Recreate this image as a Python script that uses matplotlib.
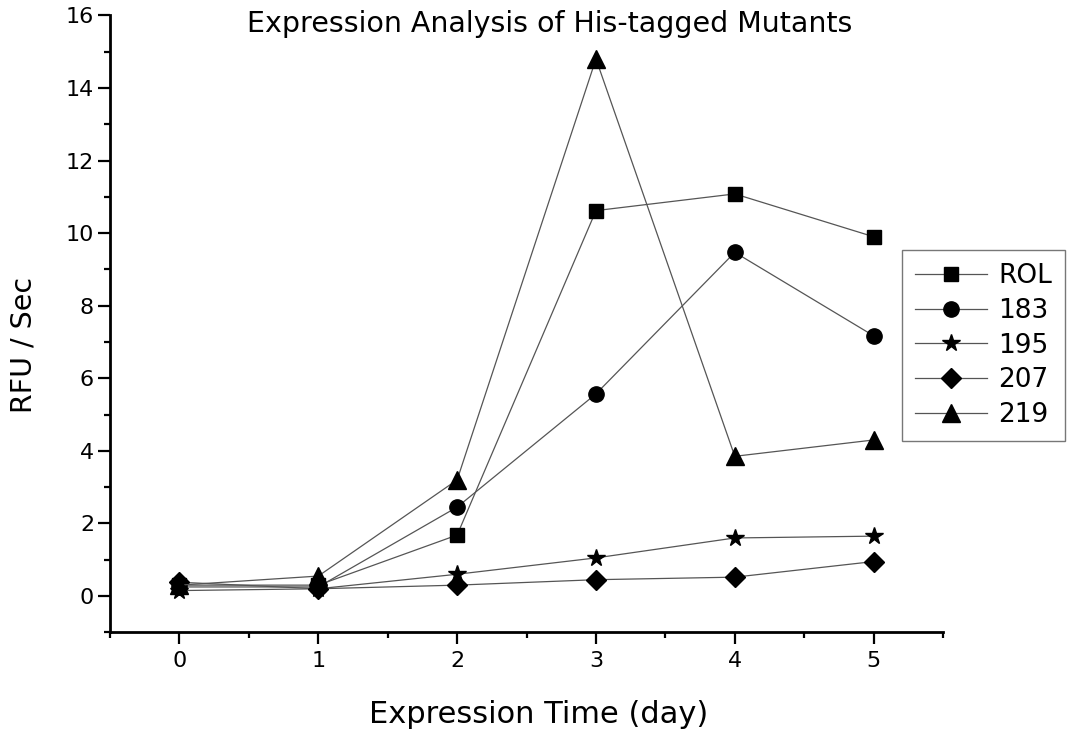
import matplotlib
matplotlib.use("Agg")
from matplotlib import pyplot as plt
from matplotlib.ticker import MultipleLocator

plt.rcParams['font.family'] = ['DejaVu Sans']

days = [0, 1, 2, 3, 4, 5]
rol = [0.30, 0.30, 1.68, 10.62, 11.08, 9.90]
m183 = [0.25, 0.25, 2.45, 5.57, 9.47, 7.17]
m195 = [0.15, 0.20, 0.60, 1.05, 1.60, 1.65]
m207 = [0.38, 0.20, 0.30, 0.45, 0.52, 0.95]
m219 = [0.30, 0.55, 3.20, 14.80, 3.85, 4.30]

labels = ["ROL", "183", "195", "207", "219"]
series = [rol, m183, m195, m207, m219]
markers = ["s", "o", "*", "D", "^"]
sizes = [9.4, 11, 13, 10, 13]

fig = plt.figure(figsize=(10.79, 7.31), dpi=100)
ax = fig.add_axes([0.102, 0.135, 0.772, 0.844])

for lab, vals, mk, ms in zip(labels, series, markers, sizes):
    ax.plot(days, vals, color='#555555', lw=0.9, marker=mk, ms=ms,
            mfc='black', mec='black', label=lab)

ax.set_xlim(-0.5, 5.5)
ax.set_ylim(-1, 16)
ax.xaxis.set_major_locator(MultipleLocator(1))
ax.xaxis.set_minor_locator(MultipleLocator(0.5))
ax.yaxis.set_major_locator(MultipleLocator(2))
ax.yaxis.set_minor_locator(MultipleLocator(1))
ax.tick_params(which='major', length=8.5, width=1.6, labelsize=16, direction='out')
ax.tick_params(which='minor', length=4.5, width=1.6, direction='out')
ax.tick_params(axis='x', pad=5)
ax.tick_params(axis='y', pad=3)
for s in ['top', 'right']:
    ax.spines[s].set_visible(False)
for s in ['left', 'bottom']:
    ax.spines[s].set_linewidth(2)

fig.text(539 / 1079, 1 - 723 / 731, "Expression Time (day)",
         ha='center', va='baseline', fontsize=22)
fig.text(24 / 1079, 1 - 345 / 731, "RFU / Sec", rotation=90,
         ha='center', va='center', fontsize=20.5)
fig.text(550 / 1079, 1 - 32 / 731, "Expression Analysis of His-tagged Mutants",
         ha='center', va='baseline', fontsize=20.5)

leg = ax.legend(loc='upper left', bbox_to_anchor=(902 / 1079, 1 - 250 / 731),
                bbox_transform=fig.transFigure, borderaxespad=0, fontsize=19,
                frameon=True, fancybox=False, edgecolor='#555555',
                handlelength=2.73, borderpad=0.5, labelspacing=0.33,
                handletextpad=0.42)
leg.get_frame().set_linewidth(1.0)

fig.savefig("out.png", dpi=100)
